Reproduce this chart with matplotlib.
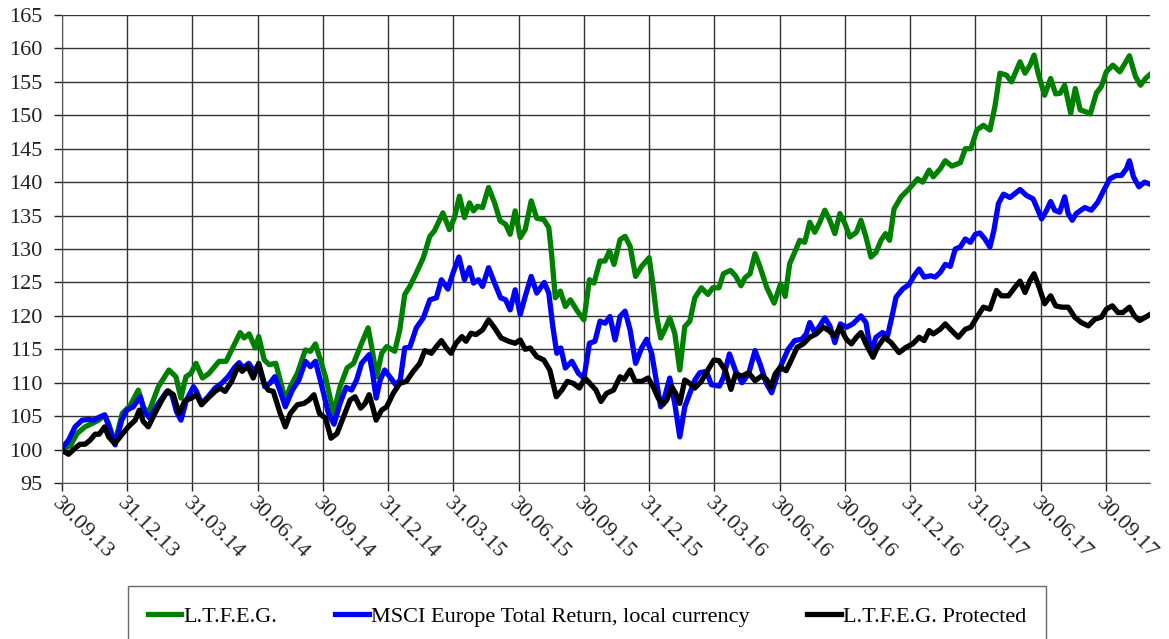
import matplotlib
matplotlib.use('Agg')
import matplotlib.pyplot as plt

# time axis: weeks since 30.09.13 (one quarter = 13 weeks)
green_weeks = [0, 1.7, 3, 4.6, 6, 7.3, 8.5, 9.3, 10.5, 12, 13.6, 15.2, 16.2, 17.2, 19.2, 21.3, 22.7, 23.7, 24.7, 25.7,
               26.7, 28, 29.3, 31.3, 32.7, 34, 35.5, 36.3, 37.3, 38.5, 39.2, 40.3, 41.3, 42.6, 44.5, 45.5, 46.9, 48.5, 49.5, 50.5,
               51.5, 52.5, 54.1, 55.4, 56.8, 58.1, 59.7, 61, 61.7, 62.7, 63.7, 64.7, 66.3, 67.3, 68.3, 69.3, 70.6, 72, 73.3, 74.2,
               75.9, 77.2, 78.2, 79.2, 80.2, 81.2, 82, 82.8, 83.8, 85, 86.2, 87.3, 88.4, 89.3, 90.3, 91.3, 92.3, 93.5, 94.6, 96,
               97, 97.6, 98.3, 99.3, 100.3, 101.3, 102.7, 104, 105.1, 106, 107.2, 108.2, 109.1, 110, 111.2, 112.2, 113.2, 114.3, 115.5, 117,
               117.8, 118.5, 119.3, 120.1, 121.1, 122.1, 123.1, 124.1, 125.1, 126.1, 127.4, 128.7, 129.7, 130.9, 131.8, 133.2, 134.2, 135.3, 136.1, 137.1,
               138.1, 139.1, 140.4, 141.9, 143.2, 144.1, 145, 146, 147, 148, 149, 150, 151, 152, 153, 154, 155, 156, 157, 158.3,
               159.2, 160.2, 161.2, 162.2, 163.2, 164.1, 164.9, 165.8, 167.2, 168.8, 170.5, 171.5, 172.8, 173.6, 175, 176, 177.3, 179, 180, 181.1,
               182.3, 183.6, 184.9, 185.9, 186.9, 188.2, 189.2, 190.9, 191.9, 192.9, 193.7, 194.5, 195.8, 197, 198, 198.9, 199.8, 201, 201.9, 202.9,
               204.1, 204.9, 206.1, 207.1, 208.1, 209.4, 210.8, 212.7, 213.9, 214.9, 215.9, 216.8]
green_vals = [100, 100.6, 102.4, 103.4, 103.9, 104.4, 105.1, 103.9, 100.9, 105.4, 106.6, 108.9, 106.4, 105.4, 109.4, 111.9, 110.9, 107.7, 110.9, 111.4,
              112.9, 110.7, 111.4, 113.2, 113.2, 115.2, 117.5, 116.7, 117.3, 115.2, 116.9, 113.4, 112.7, 112.9, 107.4, 109.4, 111.4, 114.9, 114.7, 115.8,
              113.4, 110.9, 105.4, 109.4, 112.2, 112.9, 115.9, 118.2, 115.4, 110.9, 114.4, 115.4, 114.7, 117.9, 123.2, 124.4, 126.4, 128.7, 131.9, 132.7,
              135.4, 132.9, 134.7, 137.9, 134.7, 136.9, 135.7, 136.4, 136.2, 139.2, 136.9, 134.2, 133.7, 132.2, 135.7, 131.7, 132.9, 137.2, 134.6, 134.4,
              133.2, 128.9, 122.7, 123.7, 121.4, 122.4, 120.7, 119.4, 125.4, 124.9, 128.2, 128.2, 129.7, 127.7, 131.4, 131.9, 130.4, 125.9, 127.4, 128.7,
              124.4, 119.9, 116.7, 117.9, 119.7, 117.4, 111.9, 118.4, 119.2, 122.7, 124.2, 123.2, 124.2, 124.2, 126.3, 126.8, 126, 124.5, 125.7, 126.3,
              129.3, 127.3, 124.3, 121.9, 124.8, 122.9, 127.8, 129.5, 131.3, 131, 134, 132.5, 134, 135.8, 134.3, 132.3, 135.3, 133.8, 131.8, 132.5,
              134.3, 131.8, 128.8, 129.5, 131.3, 132.3, 131.3, 136, 137.8, 139, 140.5, 140, 141.8, 140.8, 142, 143.2, 142.4, 142.9, 145, 145,
              147.8, 148.5, 147.8, 151.3, 156.3, 156, 155, 158, 156.3, 157.5, 159, 156.3, 153, 155.5, 153.2, 153.3, 154.5, 150.3, 154, 150.8,
              150.5, 150.2, 153.3, 154.3, 156.5, 157.5, 156.5, 158.9, 155.8, 154.5, 155.5, 156.1]

blue_weeks = [0, 1.3, 2.6, 4, 5.3, 6.3, 7.3, 8.5, 9.6, 10.6, 11.9, 12.9, 14.2, 15.6, 16.4, 17.5, 19.2, 20.9, 21.9, 22.8,
              23.7, 24.8, 26.2, 26.8, 27.8, 29.1, 30.5, 31.8, 33.1, 34.4, 35.3, 36.1, 37.2, 38.3, 39.2, 40.4, 41.4, 42.4, 43.4, 44.5,
              45.9, 47.2, 48.5, 49.5, 50.5, 51.8, 53.1, 54.2, 55.4, 56.6, 57.7, 58.7, 59.7, 61.2, 61.9, 62.6, 63.4, 64.3, 65.3, 66.5,
              67.4, 68.3, 69.3, 70.6, 72, 73.3, 74.6, 75.6, 76.9, 77.9, 79.1, 80.2, 81.2, 82, 83, 83.8, 85, 86.2, 87.4, 88.4,
              89.3, 90.3, 91.3, 92.3, 93.5, 94.6, 96.1, 97, 97.8, 98.6, 99.4, 100.3, 101.6, 102.9, 104, 105.1, 106.2, 107.2, 108.2, 109.2,
              110.2, 111.2, 112.2, 113.2, 114.3, 115.5, 116.5, 117.5, 118.5, 119.3, 120.1, 121.1, 122.1, 123.1, 124.1, 125.1, 126.1, 127.1, 128.4, 129.4,
              131, 131.8, 133, 134.2, 135.5, 136.8, 138.1, 139.1, 140.3, 141.4, 142.4, 143.4, 144.7, 146, 147.4, 148.3, 149, 150, 151, 152,
              153, 154, 155.1, 156.3, 157.6, 159.2, 160.2, 161.2, 162.2, 163.5, 164.5, 165.5, 166.2, 167.5, 168.8, 169.8, 170.8, 171.8, 173.1, 174,
              175, 176, 177, 178, 179, 180, 181, 182, 182.9, 183.9, 184.9, 185.7, 186.6, 187.6, 188.9, 189.9, 190.9, 192.2, 193.5, 194.2,
              195.2, 196.2, 197, 197.8, 198.8, 199.8, 200.5, 201.3, 202.1, 203.8, 205.1, 206.4, 207.4, 208.8, 210.1, 211.1, 212.1, 212.7, 213.5, 214.6,
              215.7, 216.8]
blue_vals = [100.2, 101.4, 103.4, 104.4, 104.5, 104.4, 104.8, 105.2, 102.9, 100.7, 104.4, 105.9, 106.4, 107.9, 105.7, 104.7, 106.9, 108.7, 108.2, 105.7,
             104.4, 107.4, 109.4, 108.7, 106.9, 107.9, 109.2, 109.9, 110.9, 112.3, 113, 112.2, 112.9, 111.7, 112.7, 109.4, 109.9, 110.9, 108.9, 106.4,
             108.9, 110.4, 113.2, 112.4, 113.2, 109.4, 105.4, 103.8, 106.9, 109.3, 108.9, 110.4, 112.9, 114.2, 111.4, 107.7, 110.4, 111.9, 110.9, 109.7,
             110.4, 115.2, 115.3, 118.2, 119.7, 122.4, 122.7, 125.4, 124, 126.4, 128.8, 125.4, 127.2, 124.9, 125.4, 124.4, 127.2, 124.9, 122.7, 122.4,
             120.9, 123.9, 120.2, 122.9, 125.9, 123.4, 125, 123.4, 118.4, 114.4, 115.2, 112.2, 113.2, 111.4, 110.7, 115.9, 116.2, 119.2, 118.9, 119.9,
             116.4, 119.9, 120.7, 117.9, 112.9, 115.2, 116.5, 114.4, 109.9, 106.4, 107.9, 110.7, 106.9, 101.9, 106.4, 108.4, 110.4, 111.5, 111.7, 109.7,
             109.5, 110.8, 114.3, 111.8, 110, 111.3, 114.8, 112.8, 110, 108.5, 110.8, 112.8, 115, 116.3, 116.5, 117.3, 119, 117.5, 118.5, 119.7,
             118.5, 116, 118.8, 118.3, 118.8, 120, 119, 114.5, 116.8, 117.5, 117, 120.3, 122.8, 124, 124.7, 126, 127, 125.8, 126, 125.8,
             126.5, 127.7, 127.4, 130, 130.3, 131.5, 131, 132.2, 132.4, 131.5, 130.3, 132.8, 136.8, 138.2, 137.7, 138.3, 138.9, 138, 137.5, 136.3,
             134.5, 135.8, 137.1, 135.8, 135.5, 137.8, 135.3, 134.3, 135.3, 136.2, 135.8, 137, 138.5, 140.5, 141, 141, 142, 143.2, 140.8, 139.3,
             140, 139.7]

black_weeks = [0, 1.3, 2.6, 3.6, 4.6, 5.6, 6.6, 7.4, 8.5, 9.3, 10.5, 11.9, 13.2, 14.6, 15.4, 16.2, 17.2, 18.5, 19.9, 21.1,
               22.2, 23.3, 24.5, 25.8, 26.8, 27.8, 29.1, 30.5, 31.5, 32.5, 33.8, 35.1, 35.9, 37, 38.1, 39.2, 40.3, 41.1, 42.1, 43.4,
               44.5, 45.5, 46.9, 48.2, 49.2, 50.2, 51.3, 52.5, 53.6, 54.8, 56.1, 57.4, 58.4, 59.5, 60.4, 61.2, 61.9, 62.6, 63.7, 64.7,
               66, 67.3, 68.6, 70, 71.3, 72.3, 73.6, 74.6, 75.6, 76.6, 77.5, 78.5, 79.7, 80.5, 81.5, 82.5, 83.8, 85, 86.2, 87.5,
               89, 90.3, 91.3, 92.3, 93.3, 94.6, 96, 97.2, 98.5, 99.6, 100.7, 101.9, 103.1, 104.2, 105.2, 106.4, 107.4, 108.5, 109.9, 111.2,
               112, 113.2, 114.2, 115.5, 116.8, 117.8, 118.8, 119.7, 120.5, 121.5, 122.3, 123.1, 124.1, 125.1, 126.1, 127.4, 128.7, 129.9, 130.9, 132.2,
               133.3, 134.2, 135.5, 136.8, 138.1, 139.4, 140.4, 141.2, 142.1, 143.1, 144.3, 145.4, 146.5, 147.7, 149, 150.3, 151.7, 152.8, 154, 155,
               156.3, 157.3, 158.3, 159.2, 160.2, 161.6, 162.5, 163.9, 165.2, 166.8, 168.2, 169.5, 170.8, 171.8, 172.8, 173.6, 175, 176, 177, 178.6,
               180, 181.1, 182.3, 183.6, 184.9, 186.2, 187.2, 188.6, 189.9, 190.9, 191.9, 192.9, 193.7, 194.7, 195.8, 197, 198, 199.2, 200.5, 201.8,
               203.1, 204.5, 205.8, 207.1, 208.1, 209.3, 210.4, 211.4, 212.7, 213.7, 214.7, 215.9, 216.8]
black_vals = [99.9, 99.3, 100.2, 100.8, 100.8, 101.4, 102.3, 102.3, 103.4, 101.9, 100.9, 102.2, 103.4, 104.4, 105.9, 104.2, 103.4, 105.4, 107.4, 108.8,
              108.2, 105.4, 107.3, 107.7, 108.2, 106.7, 107.7, 108.7, 109.2, 108.7, 110.2, 112.5, 111.7, 112.5, 110.7, 112.9, 109.9, 108.9, 108.7, 105.6,
              103.4, 105.4, 106.7, 106.9, 107.4, 108.2, 105.4, 104.7, 101.7, 102.4, 104.9, 107.4, 107.9, 106.2, 106.9, 108.2, 106.4, 104.4, 105.9, 106.4,
              108.4, 109.9, 110.2, 111.7, 112.9, 114.8, 114.4, 115.4, 116.3, 115.2, 114.4, 115.9, 116.9, 116.2, 117.4, 117.2, 117.9, 119.4, 118.2, 116.7,
              116.2, 115.9, 116.4, 115, 115.2, 113.9, 113.4, 111.9, 107.9, 108.9, 110.2, 109.9, 109.2, 110.7, 109.9, 108.9, 107.2, 108.4, 108.9, 110.9,
              110.5, 111.9, 110.2, 110.2, 110.7, 109.4, 107.7, 106.7, 107.4, 109.4, 108.4, 106.9, 110.4, 109.9, 109.2, 110.2, 111.9, 113.4, 113.3, 111.8,
              109, 111.3, 111, 111.5, 110.3, 111, 110.5, 109.3, 111.3, 112.3, 111.8, 113.5, 115.3, 115.8, 116.8, 117.3, 118.3, 117.8, 117, 118.3,
              116.5, 115.8, 116.8, 117.5, 115.8, 113.8, 115.3, 116.8, 116, 114.5, 115.3, 115.8, 116.8, 116.3, 117.8, 117.3, 118, 118.8, 118, 116.8,
              118, 118.3, 119.8, 121.3, 121, 123.8, 123, 123, 124.3, 125.2, 123.5, 125.3, 126.3, 124.3, 121.8, 123, 121.5, 121.3, 121.3, 119.8,
              119, 118.5, 119.5, 119.8, 121, 121.5, 120.5, 120.5, 121.3, 120, 119.3, 119.8, 120.2]

tick_labels = ['30.09.13', '31.12.13', '31.03.14', '30.06.14', '30.09.14', '31.12.14', '31.03.15', '30.06.15', '30.09.15',
               '31.12.15', '31.03.16', '30.06.16', '30.09.16', '31.12.16', '31.03.17', '30.06.17', '30.09.17']

plt.rcParams['font.family'] = ['Liberation Serif', 'DejaVu Serif']

fig = plt.figure(figsize=(11.69, 6.39), dpi=100)
ax = fig.add_axes([62 / 1169, 1 - 483 / 639, (1150 - 62) / 1169, (483 - 15) / 639])

ax.plot(green_weeks, green_vals, color='#008000', lw=3.8, solid_joinstyle='round', label='L.T.F.E.G.')
ax.plot(blue_weeks, blue_vals, color='#0000FF', lw=3.8, solid_joinstyle='round', label='MSCI Europe Total Return, local currency')
ax.plot(black_weeks, black_vals, color='black', lw=3.8, solid_joinstyle='round', label='L.T.F.E.G. Protected')

ax.set_xlim(0, 216.8)
ax.set_ylim(95, 165)
ax.set_yticks(range(95, 166, 5))
ax.set_xticks([13 * i for i in range(len(tick_labels))])
ax.set_xticklabels(tick_labels, rotation=-45, ha='left', va='top', rotation_mode='anchor')
ax.tick_params(axis='both', labelsize=16, colors='#222222', length=6, width=1)
ax.tick_params(axis='x', pad=2)
ax.tick_params(axis='y', pad=8)
ax.grid(True, color='#333333', lw=1)
ax.set_axisbelow(True)
for s in ['top', 'right']:
    ax.spines[s].set_visible(False)
for s in ['left', 'bottom']:
    ax.spines[s].set_color('#555555')

leg = fig.legend(loc='upper left', bbox_to_anchor=(128 / 1169, 1 - 586 / 639), ncol=3, fontsize=16,
                 frameon=True, fancybox=False, edgecolor='#444444', borderpad=0.9, handlelength=1.5,
                 handletextpad=0.1, columnspacing=2.6, borderaxespad=0)
leg.get_frame().set_linewidth(1)

fig.savefig('out.png', dpi=100)
